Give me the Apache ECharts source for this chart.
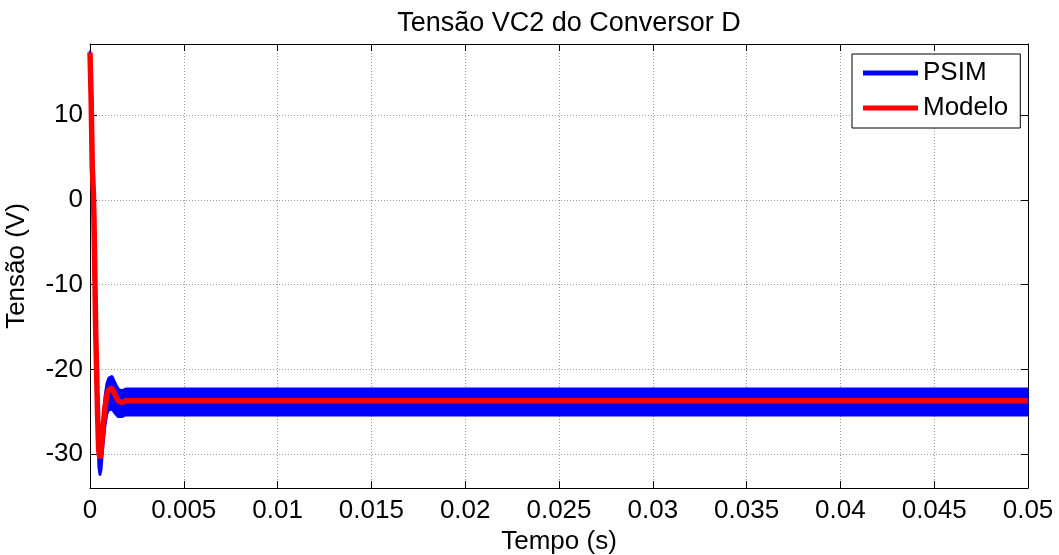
<!DOCTYPE html>
<html>
<head>
<meta charset="utf-8">
<script src="https://cdn.jsdelivr.net/npm/echarts@6/dist/echarts.min.js"></script>
<style>
html,body{margin:0;padding:0;background:#fff;}
#chart{width:1059px;height:555px;}
</style>
</head>
<body>
<div id="chart"></div>
<script>
// ---- data ----
const tempo = [0, 0.00006, 0.00012, 0.00018, 0.00021, 0.00026, 0.0003, 0.00034, 0.0004, 0.00046, 0.00053, 0.0006, 0.0007, 0.0008, 0.0009, 0.001, 0.00118, 0.0013, 0.0015, 0.0017, 0.0019, 0.05];
const modelo = [17.4, 12, 4, 0.8, -2, -9, -15, -19, -25, -29.5, -30.5, -29.5, -26.8, -24.5, -23, -22.4, -22.2, -22.8, -23.7, -23.9, -23.7, -23.7];
const psimSuperior = [17.6, 12.2, 4.2, 1, -1.5, -8.5, -14.5, -18.5, -24.5, -29, -30, -28.5, -25.5, -23, -21.6, -21, -20.8, -21.4, -22.3, -22.5, -22.3, -22.3];
const psimInferior = [17.0, 11.8, 3.6, 0.4, -2.5, -9.5, -15.8, -20, -26, -31.5, -32.5, -31.8, -29, -26.8, -25.3, -24.8, -24.7, -25.1, -25.6, -25.6, -25.4, -25.4];
const xTicks = [0, 0.005, 0.01, 0.015, 0.02, 0.025, 0.03, 0.035, 0.04, 0.045, 0.05];
const yTicks = [-30, -20, -10, 0, 10];
const seriesNames = ['PSIM', 'Modelo'];
const titleText = 'Tensão VC2 do Conversor D';
const xName = 'Tempo (s)';
const yName = 'Tensão (V)';

const FONT = 'Liberation Sans, Arial, sans-serif';
const FS = 26;
const chart = echarts.init(document.getElementById('chart'), null, {renderer: 'canvas'});

const bandRows = tempo.map((t, i) => [t, psimSuperior[i], psimInferior[i]]);
const upperData = tempo.map((t, i) => [t, psimSuperior[i]]);
const lowerData = tempo.map((t, i) => [t, psimInferior[i]]);
const modeloData = tempo.map((t, i) => [t, modelo[i]]);

const xMin = xTicks[0], xMax = xTicks[xTicks.length - 1];
const yMin = -34, yMax = 18.4;

function fmtX(v) { return String(parseFloat(Number(v).toFixed(4))); }

const tickStyle = {show: true, inside: true, length: 7, lineStyle: {color: '#000', width: 1}};
const lineStyleAxis = {show: true, onZero: false, lineStyle: {color: '#000', width: 1}};

function renderBand(params, api) {
  const i = params.dataIndex;
  if (i >= bandRows.length - 1) return null;
  const a = bandRows[i], b = bandRows[i + 1];
  const pts = [
    api.coord([a[0], a[1]]), api.coord([b[0], b[1]]),
    api.coord([b[0], b[2]]), api.coord([a[0], a[2]])
  ];
  return {
    type: 'polygon',
    shape: {points: pts},
    style: {fill: '#0000ff', stroke: '#0000ff', lineWidth: 1}
  };
}

chart.setOption({
  animation: false,
  backgroundColor: '#fff',
  title: {
    text: titleText, left: 564, textAlign: 'center', top: 5,
    textStyle: {fontFamily: FONT, fontSize: 27, fontWeight: 'normal', color: '#000'}
  },
  legend: {
    data: seriesNames, orient: 'vertical', left: 852, top: 54,
    icon: 'rect', itemWidth: 55, itemHeight: 5, itemGap: 9,
    padding: [6, 12, 7, 11],
    borderColor: '#000', borderWidth: 1, backgroundColor: '#fff',
    textStyle: {fontFamily: FONT, fontSize: FS, color: '#000'}
  },
  grid: {left: 90, right: 31, top: 44, bottom: 67, containLabel: false, outerBoundsMode: 'none'},
  xAxis: [{
    type: 'value', min: xMin, max: xMax, interval: 0.005,
    name: xName, nameLocation: 'middle', nameGap: 32,
    nameTextStyle: {fontFamily: FONT, fontSize: FS, color: '#000'},
    axisLine: lineStyleAxis, axisTick: tickStyle,
    axisLabel: {formatter: fmtX, fontFamily: FONT, fontSize: FS, color: '#000', margin: 10},
    splitLine: {show: true, lineStyle: {color: '#999', width: 1, type: [1, 2]}}
  }, {
    type: 'value', position: 'top', min: xMin, max: xMax, interval: 0.005,
    axisLine: lineStyleAxis, axisTick: tickStyle, axisLabel: {show: false}, splitLine: {show: false}
  }],
  yAxis: [{
    type: 'value', min: yMin, max: yMax, splitNumber: 5,
    name: yName, nameLocation: 'middle', nameGap: 60, nameRotate: 90,
    nameTextStyle: {fontFamily: FONT, fontSize: FS, color: '#000'},
    axisLine: lineStyleAxis, axisTick: tickStyle,
    axisLabel: {showMinLabel: false, showMaxLabel: false, fontFamily: FONT, fontSize: FS, color: '#000', margin: 7,
      formatter: v => (yTicks.indexOf(Math.round(v)) >= 0 && Math.abs(v - Math.round(v)) < 1e-6) ? String(Math.round(v)) : ''},
    splitLine: {show: true, lineStyle: {color: '#999', width: 1, type: [1, 2]}}
  }, {
    type: 'value', position: 'right', min: yMin, max: yMax, splitNumber: 5,
    axisLine: lineStyleAxis, axisTick: tickStyle, axisLabel: {show: false}, splitLine: {show: false}
  }],
  series: [{
    name: 'psimBand', type: 'custom', data: bandRows, renderItem: renderBand,
    encode: {x: 0, y: [1, 2]}, z: 2, silent: true
  }, {
    name: seriesNames[0], type: 'line', data: upperData,
    symbol: 'none', showSymbol: false, z: 2,
    lineStyle: {color: '#0000ff', width: 2.5}, itemStyle: {color: '#0000ff'}
  }, {
    name: 'psimInferior', type: 'line', data: lowerData,
    symbol: 'none', showSymbol: false, z: 2,
    lineStyle: {color: '#0000ff', width: 2.5}, itemStyle: {color: '#0000ff'}
  }, {
    name: seriesNames[1], type: 'line', data: modeloData,
    symbol: 'none', showSymbol: false, z: 3,
    lineStyle: {color: '#ff0000', width: 5.5}, itemStyle: {color: '#ff0000'}
  }]
});
</script>
</body>
</html>
